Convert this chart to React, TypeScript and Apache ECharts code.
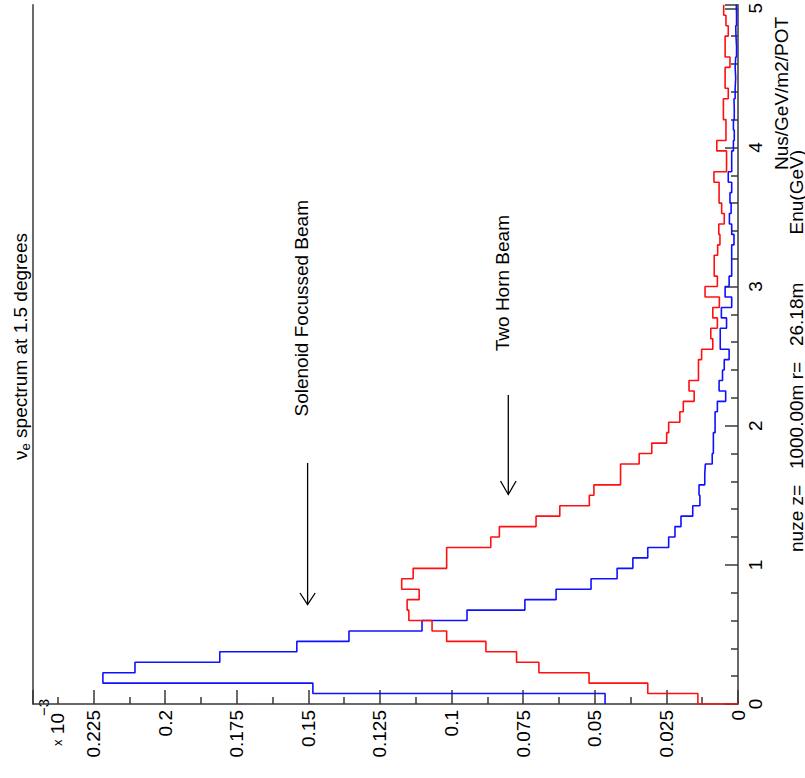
import React, { useEffect, useRef } from "react";
import * as echarts from "echarts";

// Histogram bin width in GeV; bin k covers [k*binWidth, (k+1)*binWidth)
const binWidth = 0.075;

// Solenoid focussed beam, flux per bin (x10^-3 Nus/GeV/m2/POT)
const solenoidFlux = [
  0.0464, 0.1484, 0.2217, 0.2105, 0.1809, 0.154, 0.1358, 0.1103, 0.0946, 0.0744,
  0.0635, 0.0513, 0.0422, 0.0367, 0.0315, 0.0242, 0.022, 0.0199, 0.0158, 0.0133,
  0.0136, 0.0116, 0.0114, 0.009, 0.0086, 0.0086, 0.008, 0.008, 0.0072, 0.0043,
  0.0066, 0.0054, 0.0048, 0.0031, 0.0062, 0.0062, 0.004, 0.0058, 0.0022, 0.0045,
  0.0031, 0.0022, 0.0022, 0.0022, 0.0014, 0.0022, 0.003, 0.0024, 0.0028, 0.0022,
  0.0034, 0.0022, 0.0022, 0.0016, 0.0013, 0.0016, 0.0013, 0.0014, 0.001, 0.0008,
  0.001, 0.0008, 0.0005, 0.0007, 0.0008, 0.0005, 0.0006,
];

// Two horn beam, flux per bin (x10^-3 Nus/GeV/m2/POT)
const twoHornFlux = [
  0.014, 0.0315, 0.052, 0.0695, 0.0773, 0.088, 0.1017, 0.1068, 0.1149, 0.1155,
  0.1113, 0.1174, 0.1134, 0.1017, 0.1017, 0.0863, 0.0833, 0.0705, 0.0622, 0.0519,
  0.0503, 0.041, 0.041, 0.0345, 0.0301, 0.0249, 0.0242, 0.0203, 0.0191, 0.0153,
  0.0171, 0.0138, 0.0138, 0.0127, 0.0088, 0.0095, 0.0072, 0.0088, 0.0065, 0.0115,
  0.0072, 0.0083, 0.0083, 0.0071, 0.0063, 0.0067, 0.0048, 0.0057, 0.0066, 0.0066,
  0.0084, 0.004, 0.004, 0.0074, 0.0042, 0.0042, 0.0051, 0.0051, 0.0034, 0.0045,
  0.0045, 0.0028, 0.0045, 0.0045, 0.0034, 0.0042, 0.005,
];

const energyTicks = [0, 1, 2, 3, 4, 5];
const fluxStep = 0.025;
const fluxTickLabels = [
  "0", "0.025", "0.05", "0.075", "0.1", "0.125", "0.15", "0.175", "0.2", "0.225",
];

const FONT = "'Liberation Sans', Arial, Helvetica, sans-serif";
const AXIS_COLOR = "#383838";

// Step outline of a histogram drawn with energy running vertically.
function outline(values: number[], fromZero: boolean): [number, number][] {
  const pts: [number, number][] = [];
  if (fromZero) pts.push([0, 0]);
  values.forEach((v, i) => {
    pts.push([v, i * binWidth]);
    pts.push([v, (i + 1) * binWidth]);
  });
  return pts;
}

function fluxLabel(v: number): string {
  const k = Math.round(v / fluxStep);
  if (Math.abs(v - k * fluxStep) > 1e-6) return "";
  return fluxTickLabels[k] ?? "";
}

function energyLabel(v: number): string {
  const k = Math.round(v);
  if (Math.abs(v - k) > 1e-6 || !energyTicks.includes(k)) return "";
  return String(k);
}

// Text turned a quarter turn, reading from bottom to top.
const vText = (
  x: number,
  y: number,
  text: string,
  align: string,
  fontSize = 19,
  extra: any = {}
) => ({
  type: "text",
  x,
  y,
  rotation: Math.PI / 2,
  silent: true,
  style: {
    text,
    fontSize,
    fontFamily: FONT,
    fill: "#000",
    align,
    textAlign: align,
    verticalAlign: "middle",
    textVerticalAlign: "middle",
    ...extra,
  },
});

export default function App() {
  const ref = useRef<HTMLDivElement>(null);

  useEffect(() => {
    if (!ref.current) return;
    const chart = echarts.init(ref.current, null, { renderer: "svg" });

    const tickStyle = { color: AXIS_COLOR, width: 1.5 };

    chart.setOption({
      animation: false,
      backgroundColor: "#fff",
      grid: { left: 33, right: 67, top: 0, bottom: 74, containLabel: false },
      xAxis: {
        type: "value",
        position: "bottom",
        inverse: true,
        min: 0,
        max: 0.2461,
        interval: fluxStep,
        axisLine: { show: true, onZero: false, lineStyle: tickStyle },
        axisTick: { show: true, inside: true, length: 14, lineStyle: tickStyle },
        minorTick: { show: true, splitNumber: 2, length: 7, lineStyle: tickStyle },
        splitLine: { show: false },
        minorSplitLine: { show: false },
        axisLabel: {
          rotate: 90,
          margin: 6,
          fontSize: 19,
          fontFamily: FONT,
          color: "#000",
          formatter: fluxLabel,
        },
      },
      yAxis: [
        {
          type: "value",
          position: "right",
          min: 0,
          max: 5.025,
          interval: 1,
          axisLine: { show: true, onZero: false, lineStyle: tickStyle },
          axisTick: { show: true, inside: true, length: 13, lineStyle: tickStyle },
          minorTick: { show: true, splitNumber: 5, length: 7, lineStyle: tickStyle },
          splitLine: { show: false },
          minorSplitLine: { show: false },
          axisLabel: {
            rotate: 90,
            margin: 8,
            fontSize: 19,
            fontFamily: FONT,
            color: "#000",
            formatter: energyLabel,
          },
        },
        {
          type: "value",
          position: "left",
          min: 0,
          max: 5.025,
          axisLine: { show: true, onZero: false, lineStyle: tickStyle },
          axisTick: { show: false },
          axisLabel: { show: false },
          splitLine: { show: false },
        },
      ],
      series: [
        {
          name: "Solenoid Focussed Beam",
          type: "line",
          data: outline(solenoidFlux, false),
          showSymbol: false,
          clip: true,
          lineStyle: { color: "#1010ff", width: 1.6 },
          itemStyle: { color: "#1010ff" },
        },
        {
          name: "Two Horn Beam",
          type: "line",
          data: outline(twoHornFlux, true),
          showSymbol: false,
          clip: true,
          lineStyle: { color: "#ff1010", width: 1.6 },
          itemStyle: { color: "#ff1010" },
        },
      ],
      graphic: [
        vText(20, 233, "{a|ν}{b|e}{a| spectrum at 1.5 degrees}", "right", 19, {
          rich: {
            a: { fontSize: 19, fontFamily: FONT, lineHeight: 24, fill: "#000" },
            b: {
              fontSize: 13,
              fontFamily: FONT,
              lineHeight: 14,
              verticalAlign: "bottom",
              fill: "#000",
            },
          },
        }),
        vText(57, 713, "{s|x}{n| 10}", "right", 19, {
          rich: {
            s: { fontSize: 13, fontFamily: FONT, fill: "#000" },
            n: { fontSize: 19, fontFamily: FONT, fill: "#000" },
          },
        }),
        vText(43, 716, "−3", "left", 15),
        vText(301, 200, "Solenoid Focussed Beam", "right"),
        {
          type: "line",
          silent: true,
          shape: { x1: 307.6, y1: 463, x2: 307.6, y2: 604 },
          style: { stroke: "#000", lineWidth: 1.3 },
        },
        {
          type: "polyline",
          silent: true,
          shape: { points: [[300, 593], [307.6, 604.5], [315.2, 593]] },
          style: { stroke: "#000", lineWidth: 1.3, fill: "none" },
        },
        vText(502.5, 215, "Two Horn Beam", "right"),
        {
          type: "line",
          silent: true,
          shape: { x1: 508.3, y1: 395, x2: 508.3, y2: 494 },
          style: { stroke: "#000", lineWidth: 1.3 },
        },
        {
          type: "polyline",
          silent: true,
          shape: { points: [[500.5, 481], [508.3, 494.5], [516.1, 481]] },
          style: { stroke: "#000", lineWidth: 1.3, fill: "none" },
        },
        vText(781, 170, "Nus/GeV/m2/POT", "left", 19),
        vText(796, 552, "nuze z=   1000.00m r=   26.18m", "left"),
        vText(796, 150, "Enu(GeV)", "right"),
      ],
    });

    return () => chart.dispose();
  }, []);

  return (
    <div
      ref={ref}
      style={{ position: "absolute", left: 0, top: 0, width: 805, height: 778, background: "#fff" }}
    />
  );
}
